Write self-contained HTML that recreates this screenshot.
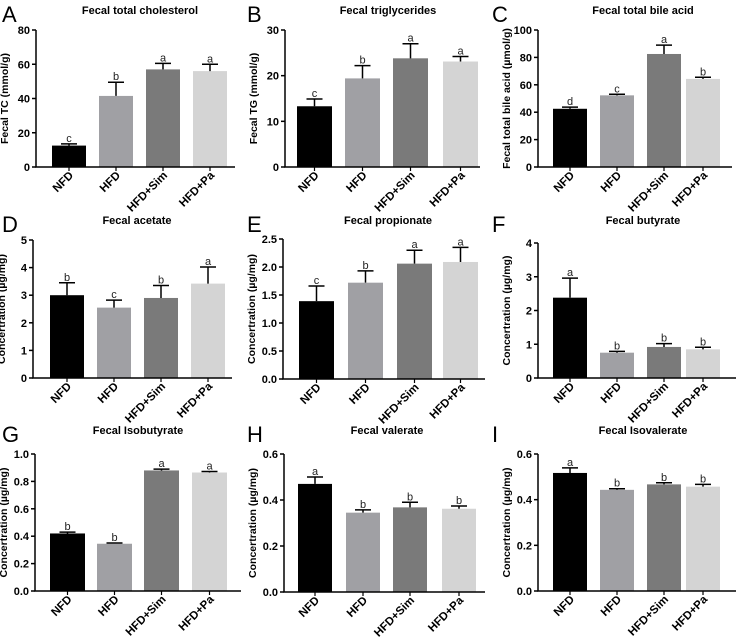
<!DOCTYPE html>
<html><head><meta charset="utf-8"><style>
html,body{margin:0;padding:0;background:#fff;}
svg{display:block;font-family:"Liberation Sans",Arial,sans-serif;}
</style></head><body>
<svg id="fig" width="745" height="638" viewBox="0 0 745 638"></svg>
<script>
const categories = ["NFD","HFD","HFD+Sim","HFD+Pa"];
const colors = ["#000000","#a0a0a4","#7a7a7a","#d4d4d4"];
const valsA = [12.5, 41.5, 57, 56];     const errA = [1, 8, 3.5, 4];        const letA = ["c","b","a","a"];
const valsB = [13.3, 19.4, 23.8, 23.1]; const errB = [1.6, 2.8, 3.2, 1.1];  const letB = ["c","b","a","a"];
const valsC = [42.5, 52.3, 82.5, 64.3]; const errC = [1.2, 0.8, 6.5, 1.2];  const letC = ["d","c","a","b"];
const valsD = [3.0, 2.55, 2.9, 3.42];   const errD = [0.45, 0.27, 0.45, 0.6]; const letD = ["b","c","b","a"];
const valsE = [1.39, 1.72, 2.06, 2.09]; const errE = [0.27, 0.21, 0.24, 0.26]; const letE = ["c","b","a","a"];
const valsF = [2.38, 0.75, 0.92, 0.85]; const errF = [0.58, 0.04, 0.1, 0.06]; const letF = ["a","b","b","b"];
const valsG = [0.42, 0.345, 0.88, 0.865]; const errG = [0.01, 0.005, 0.01, 0.007]; const letG = ["b","b","a","a"];
const valsH = [0.47, 0.345, 0.368, 0.362]; const errH = [0.03, 0.012, 0.022, 0.012]; const letH = ["a","b","b","b"];
const valsI = [0.517, 0.443, 0.467, 0.457]; const errI = [0.022, 0.005, 0.007, 0.01]; const letI = ["a","b","b","b"];
const ticksA = ["0","20","40","60","80"];
const ticksB = ["0","10","20","30"];
const ticksC = ["0","20","40","60","80","100"];
const ticksD = ["0","1","2","3","4","5"];
const ticksE = ["0.0","0.5","1.0","1.5","2.0","2.5"];
const ticksF = ["0","1","2","3","4"];
const ticksG = ["0.0","0.2","0.4","0.6","0.8","1.0"];
const ticksH = ["0.0","0.2","0.4","0.6"];
const ticksI = ["0.0","0.2","0.4","0.6"];

const NS="http://www.w3.org/2000/svg";
const fig=document.getElementById('fig');
function mk(tag,attrs,parent,text){const e=document.createElementNS(NS,tag);for(const k in attrs)e.setAttribute(k,attrs[k]);if(text!==undefined)e.textContent=text;(parent||fig).appendChild(e);return e;}

const panels=[
 {id:"a",letter:"A",title:"Fecal total cholesterol",ytitle:"Fecal TC (mmol/g)",vals:valsA,err:errA,lets:letA,ticks:ticksA,ax:36,top:30,bot:167,bars:[52,99,146,193],bw:34,right:235,lx:2,ly:22,tx:140,ty:14},
 {id:"b",letter:"B",title:"Fecal triglycerides",ytitle:"Fecal TG (mmol/g)",vals:valsB,err:errB,lets:letB,ticks:ticksB,ax:285,top:30,bot:167,bars:[297,345,393,443],bw:35,right:480,lx:247,ly:22,tx:388,ty:14},
 {id:"c",letter:"C",title:"Fecal total bile acid",ytitle:"Fecal total bile acid (\u00b5mol/g)",vals:valsC,err:errC,lets:letC,ticks:ticksC,ax:538,top:30,bot:167,bars:[553,600,647,686],bw:34,right:732,lx:492,ly:22,tx:643,ty:14},
 {id:"d",letter:"D",title:"Fecal acetate",ytitle:"Concertration (\u00b5g/mg)",vals:valsD,err:errD,lets:letD,ticks:ticksD,ax:33,top:240,bot:378,bars:[50,97,144,191],bw:34,right:232,lx:2,ly:232,tx:137,ty:224},
 {id:"e",letter:"E",title:"Fecal propionate",ytitle:"Concertration (\u00b5g/mg)",vals:valsE,err:errE,lets:letE,ticks:ticksE,ax:283,top:239,bot:379,bars:[299,348,397,443],bw:35,right:485,lx:247,ly:232,tx:388,ty:224},
 {id:"f",letter:"F",title:"Fecal butyrate",ytitle:"Concertration (\u00b5g/mg)",vals:valsF,err:errF,lets:letF,ticks:ticksF,ax:538,top:243,bot:378,bars:[553,600,647,686],bw:34,right:736,lx:492,ly:232,tx:643,ty:224},
 {id:"g",letter:"G",title:"Fecal Isobutyrate",ytitle:"Concertration (\u00b5g/mg)",vals:valsG,err:errG,lets:letG,ticks:ticksG,ax:35,top:454,bot:591,bars:[50,97,144,192],bw:35,right:241,lx:2,ly:442,tx:138,ty:434},
 {id:"h",letter:"H",title:"Fecal valerate",ytitle:"Concertration (\u00b5g/mg)",vals:valsH,err:errH,lets:letH,ticks:ticksH,ax:284,top:454,bot:592,bars:[298,346,393,442],bw:34,right:485,lx:247,ly:442,tx:387,ty:434},
 {id:"i",letter:"I",title:"Fecal Isovalerate",ytitle:"Concertration (\u00b5g/mg)",vals:valsI,err:errI,lets:letI,ticks:ticksI,ax:538,top:454,bot:591,bars:[553,600,647,686],bw:34,right:736,lx:492,ly:442,tx:643,ty:434}
];

panels.forEach(p=>{
  const g=mk('g',{});
  
  
  const maxV=parseFloat(p.ticks[p.ticks.length-1]);
  const y=v=>p.bot-(v/maxV)*(p.bot-p.top);
  const L=mk('text',{x:p.lx,y:p.ly,'font-size':22,fill:'#000'},g,p.letter);
  
  
  const T=mk('text',{x:p.tx,y:p.ty,'font-size':11,'font-weight':'bold','text-anchor':'middle'},g,p.title);
  
  
  const yt=(p.top+p.bot)/2;
  const YT=mk('text',{x:0,y:0,'font-size':10.5,'font-weight':'bold','text-anchor':'middle',transform:`translate(${p.ax-28},${yt}) rotate(-90)`},g,p.ytitle);
  
  
  p.vals.forEach((v,i)=>{
    const x=p.bars[i], cx=x+p.bw/2, ytop=y(v), ye=y(v+p.err[i]);
    const r=mk('rect',{x:x,y:ytop,width:p.bw,height:p.bot-ytop,fill:colors[i]},g);
    
    
    const e=mk('path',{d:`M${cx},${ytop}V${ye}M${cx-8},${ye}H${cx+8}`,stroke:'#000','stroke-width':1.5,fill:'none'},g);
    
    
    const s=mk('text',{x:cx,y:ye-2,'font-size':11,'text-anchor':'middle',fill:'#222'},g,p.lets[i]);
    
    
    const xl=mk('text',{x:0,y:0,'font-size':11.5,'font-weight':'bold','text-anchor':'end',transform:`translate(${cx+5},${p.bot+9}) rotate(-45)`},g,categories[i]);
    
    
    mk('line',{x1:cx,y1:p.bot,x2:cx,y2:p.bot+4,stroke:'#000','stroke-width':1.2},g);
  });
  const ax=mk('path',{d:`M${p.ax},${p.top}V${p.bot}H${p.right}`,stroke:'#000','stroke-width':1.5,fill:'none'},g);
  
  
  p.ticks.forEach(t=>{
    const ty=y(parseFloat(t));
    mk('line',{x1:p.ax-4,y1:ty,x2:p.ax,y2:ty,stroke:'#000','stroke-width':1.5},g);
    const tl=mk('text',{x:p.ax-6,y:ty+4,'font-size':11,'font-weight':'bold','text-anchor':'end'},g,t);
    
    
  });
});
</script>
</body></html>
